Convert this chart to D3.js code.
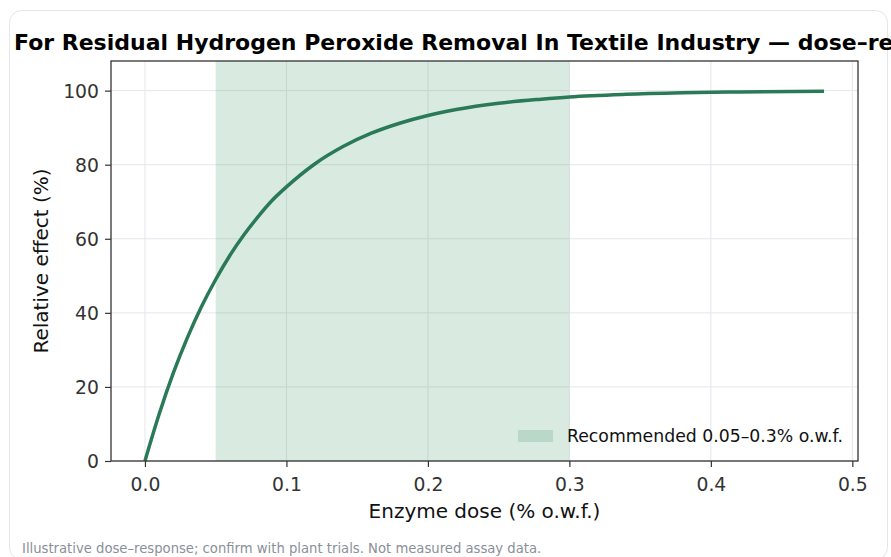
<!DOCTYPE html>
<html><head><meta charset="utf-8">
<script src="https://cdn.jsdelivr.net/npm/d3@7"></script>
<style>
html,body{margin:0;padding:0;background:#fff;overflow:hidden;}
svg{display:block;font-family:"DejaVu Sans",sans-serif;}
</style></head>
<body>
<svg id="c" width="891" height="557"></svg>
<script>
const titleText = "For Residual Hydrogen Peroxide Removal In Textile Industry \u2014 dose\u2013response";
const xLabel = "Enzyme dose (% o.w.f.)";
const yLabel = "Relative effect (%)";
const footnote = "Illustrative dose\u2013response; confirm with plant trials. Not measured assay data.";
const legendLabel = "Recommended 0.05\u20130.3% o.w.f.";
const doses = [0, 0.01, 0.02, 0.03, 0.04, 0.05, 0.06, 0.07, 0.08, 0.09, 0.10, 0.12, 0.14, 0.16, 0.18, 0.20, 0.22, 0.25, 0.28, 0.30, 0.34, 0.38, 0.42, 0.48];
const effects = [0, 12.6, 23.7, 33.3, 41.7, 49.0, 55.5, 61.1, 66.0, 70.4, 74.0, 80.2, 84.9, 88.5, 91.2, 93.3, 94.9, 96.6, 97.7, 98.3, 99.0, 99.4, 99.65, 99.85];
const recRange = [0.05, 0.3];
const xTicks = [0, 0.1, 0.2, 0.3, 0.4, 0.5];
const yTicks = [0, 20, 40, 60, 80, 100];

const svg = d3.select("#c");
// card
svg.append("rect").attr("x",9.5).attr("y",10.5).attr("width",878).attr("height",549)
  .attr("rx",12).attr("fill","#fff").attr("stroke","#e3e6ea").attr("stroke-width",1);

const L=111, R=858, T=61, B=461;
const x = d3.scaleLinear().domain([-0.024, 0.504]).range([L,R]);
const y = d3.scaleLinear().domain([0, 108]).range([B,T]);

// grid
const g = svg.append("g");
g.selectAll(".gx").data(xTicks).enter().append("line")
  .attr("x1",d=>x(d)).attr("x2",d=>x(d)).attr("y1",T).attr("y2",B)
  .attr("stroke","#e4e7eb").attr("stroke-width",1);
g.selectAll(".gy").data(yTicks).enter().append("line")
  .attr("x1",L).attr("x2",R).attr("y1",d=>y(d)).attr("y2",d=>y(d))
  .attr("stroke","#e4e7eb").attr("stroke-width",1);

// span
svg.append("rect").attr("x",x(recRange[0])).attr("y",T)
  .attr("width",x(recRange[1])-x(recRange[0])).attr("height",B-T)
  .attr("fill","#2e8b57").attr("fill-opacity",0.18);

// line
const pts = doses.map((d,i)=>[d,effects[i]]);
svg.append("path").datum(pts)
  .attr("d", d3.line().x(d=>x(d[0])).y(d=>y(d[1])).curve(d3.curveMonotoneX))
  .attr("fill","none").attr("stroke","#2a7a57").attr("stroke-width",3.5)
  .attr("stroke-linecap","butt");

// axes
const xa = svg.append("g").attr("transform",`translate(0,${B})`)
  .call(d3.axisBottom(x).tickValues(xTicks).tickFormat(d3.format(".1f")).tickSize(6).tickPadding(5));
const ya = svg.append("g").attr("transform",`translate(${L},0)`)
  .call(d3.axisLeft(y).tickValues(yTicks).tickFormat(d3.format("d")).tickSize(6).tickPadding(6));
[xa,ya].forEach(a=>{
  a.select(".domain").remove();
  a.selectAll("line").attr("stroke","#333").attr("stroke-width",1.2);
  a.selectAll("text").attr("fill","#333").style("font-size","18.8px").style("font-family","DejaVu Sans");
});
xa.selectAll("text").attr("y",null).attr("dy",null).attr("y",30);
ya.selectAll("text").attr("dy","0.37em");
// frame
svg.append("rect").attr("x",L).attr("y",T).attr("width",R-L).attr("height",B-T)
  .attr("fill","none").attr("stroke","#333").attr("stroke-width",1.3);

// labels
svg.append("text").attr("x",(L+R)/2).attr("y",518).attr("text-anchor","middle")
  .attr("fill","#111").style("font-size","20px").text(xLabel);
svg.append("text").attr("transform",`translate(48,${(T+B)/2}) rotate(-90)`).attr("text-anchor","middle")
  .attr("fill","#111").style("font-size","20px").text(yLabel);

// title
svg.append("text").attr("x",14).attr("y",50).attr("fill","#000")
  .style("font-size","22px").style("font-weight","bold").text(titleText);

// legend
svg.append("rect").attr("x",518).attr("y",430).attr("width",35).attr("height",12)
  .attr("fill","#2e8b57").attr("fill-opacity",0.18);
svg.append("text").attr("x",567).attr("y",442).attr("fill","#111")
  .style("font-size","17.3px").text(legendLabel);

// footnote
svg.append("text").attr("x",22).attr("y",553).attr("fill","#8a9099")
  .style("font-size","13.2px").text(footnote);
</script>
</body></html>
